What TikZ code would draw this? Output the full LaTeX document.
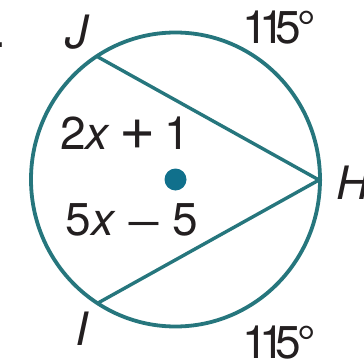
\documentclass[tikz,border=0pt]{standalone}
\usepackage{fontspec}
\setmainfont{TeX Gyre Heros}
\definecolor{ringteal}{RGB}{38,118,125}
\definecolor{dotblue}{RGB}{16,112,140}
\definecolor{inkdark}{RGB}{35,31,32}
\newcommand{\degtext}{1\kern-9pt1\kern-9pt5\kern-4pt°}
\begin{document}
\begin{tikzpicture}[x=1pt,y=-1pt,
  ring/.style={draw=ringteal,line width=3.8pt},
  chord/.style={draw=ringteal,line width=3.4pt,line join=miter},
  lbl/.style={inner sep=0pt,text=inkdark,font=\fontsize{46}{50}\selectfont}]
\useasboundingbox (0,0) rectangle (364,361);
\coordinate (O) at (175.5,179.5);
\coordinate (J) at (98,57);
\coordinate (H) at (319,180);
\coordinate (I) at (98,303);
\draw[ring] (O) ellipse [x radius=144.5, y radius=147];
\draw[chord] (J) -- (H) -- (I);
\fill[dotblue] (O) circle [radius=11];
\node[lbl] (top) at (279,28) {\degtext};
\node[lbl] (bot) at (279,343) {\degtext};
\node[lbl] (lj) at (77,32) {\itshape J};
\node[lbl] (li) at (82,329) {\itshape I};
\node[lbl,anchor=west] (lh) at (336,183) {\itshape H};
\node[lbl] (e1) at (125,133) {2\textit{x}\kern9pt\scalebox{1.35}{+}\kern9pt1};
\node[lbl] (e2) at (132,220) {5\textit{x}\kern9pt\scalebox{1.45}[1]{−}\kern9pt5};
\node[lbl,anchor=base east] (pt) at (6,48) {.};
\end{tikzpicture}
\end{document}
